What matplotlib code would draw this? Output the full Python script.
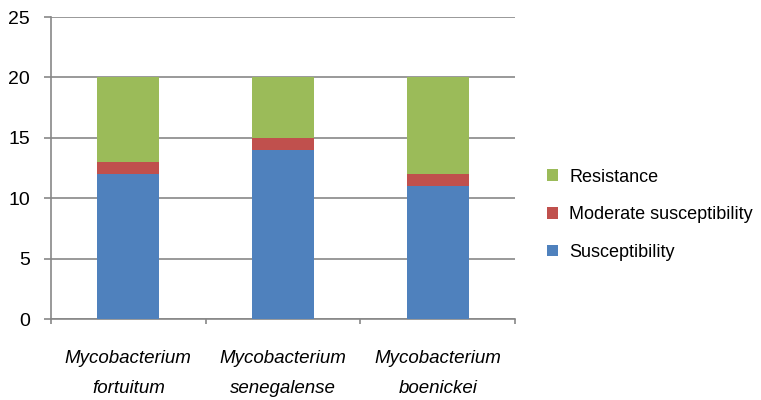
import matplotlib.pyplot as plt
import numpy as np

plt.rcParams['font.family'] = ['Liberation Sans', 'DejaVu Sans']

species = ["Mycobacterium\nfortuitum", "Mycobacterium\nsenegalense", "Mycobacterium\nboenickei"]
susceptibility = [12, 14, 11]
moderate = [1, 1, 1]
resistance = [7, 5, 8]

fig = plt.figure(figsize=(7.61, 4.0), dpi=100)
ax = fig.add_axes([0.067, 0.2025, 0.61, 0.755])

x = np.arange(len(species))
w = 0.4
s = np.array(susceptibility)
m = np.array(moderate)
r = np.array(resistance)
ax.bar(x, s, w, color='#4F81BD', label="Susceptibility", zorder=3)
ax.bar(x, m, w, bottom=s, color='#C0504D', label="Moderate susceptibility", zorder=3)
ax.bar(x, r, w, bottom=s + m, color='#9BBB59', label="Resistance", zorder=3)

ax.set_xlim(-0.5, 2.5)
ax.set_ylim(0, 25)
ax.set_yticks(range(0, 26, 5))
ax.yaxis.grid(True, color='#878787', linewidth=1.2, zorder=0)

# category boundaries get the tick marks, labels sit at bar centres
ax.set_xticks([-0.5, 0.5, 1.5, 2.5])
ax.set_xticklabels([])
ax.set_xticks(x, minor=True)
ax.set_xticklabels(species, minor=True, fontstyle='italic', fontsize=13.5, linespacing=2.0)
ax.tick_params(axis='x', which='minor', length=0, pad=22)
ax.tick_params(axis='x', which='major', length=3.5, width=1.2, color='#878787')
ax.tick_params(axis='y', length=5, width=1.2, color='#878787', labelsize=14, pad=10)

for side in ['top', 'right']:
    ax.spines[side].set_visible(False)
for side in ['left', 'bottom']:
    ax.spines[side].set_color('#878787')
    ax.spines[side].set_linewidth(1.2)

handles, labels = ax.get_legend_handles_labels()
fig.legend(handles[::-1], labels[::-1], loc='center left', bbox_to_anchor=(0.698, 0.463),
           frameon=False, fontsize=13, handlelength=0.6, handleheight=0.6,
           labelspacing=1.15, handletextpad=0.6)

fig.savefig('out.png', dpi=100)
